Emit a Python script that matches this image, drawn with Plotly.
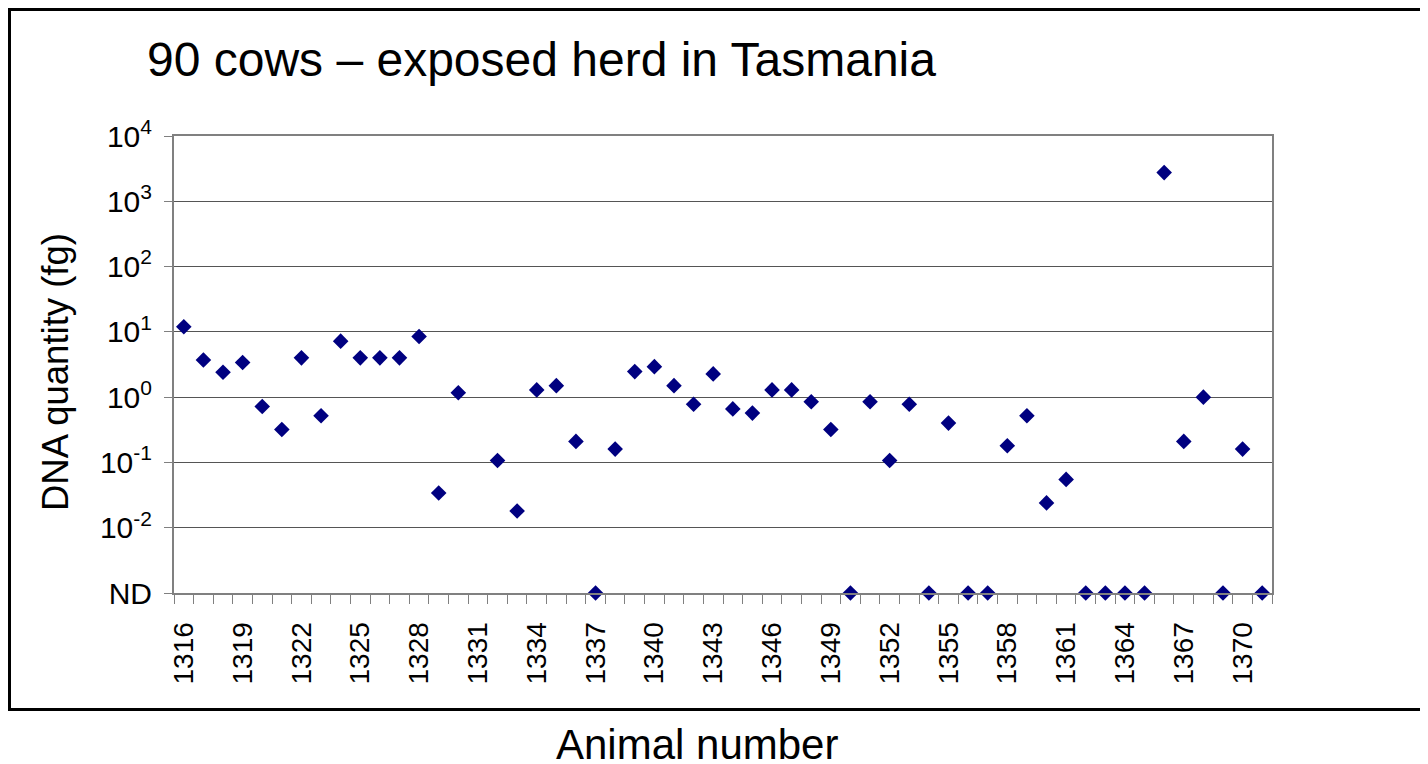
import plotly.graph_objects as go

# ---- data ----
animals = list(range(1316, 1372))
dna_fg = [
    12, 3.7, 2.4, 3.4, 0.72, 0.32, 4.0, 0.52, 7.2, 4.0,        # 1316-1325
    4.0, 4.0, 8.5, 0.034, 1.17, None, 0.107, 0.018, 1.29, 1.5,  # 1326-1335
    0.21, "ND", 0.16, 2.46, 2.93, 1.5, 0.78, 2.27, 0.66, 0.57,  # 1336-1345
    1.29, 1.29, 0.85, 0.32, "ND", 0.85, 0.107, 0.78, "ND", 0.40,  # 1346-1355
    "ND", "ND", 0.18, 0.52, 0.024, 0.055, "ND", "ND", "ND", "ND",  # 1356-1365
    2750, 0.21, 1.0, "ND", 0.16, "ND",                          # 1366-1371
]
ND_LEVEL = 1e-3
y_tickvals = [1e-3, 1e-2, 1e-1, 1e0, 1e1, 1e2, 1e3, 1e4]
y_ticktext = ["ND", "10<sup>-2</sup>", "10<sup>-1</sup>", "10<sup>0</sup>",
              "10<sup>1</sup>", "10<sup>2</sup>", "10<sup>3</sup>", "10<sup>4</sup>"]
x_tickvals = animals[::3]
x_ticktext = [str(a) for a in x_tickvals]

y_plot = [ND_LEVEL if v == "ND" else v for v in dna_fg]

FONT = "Liberation Sans, Arial, sans-serif"

# page body adds an 8px offset; layout size compensates for it
W, H = 1420, 756
PL, PT, PW, PH = 174, 136, 1098, 457   # plot area in page pixels
OFF = 8


def px(xp):
    return (xp - PL) / PW


def py(yp):
    return (PT + PH - yp) / PH


fig = go.Figure()
fig.add_trace(go.Scatter(
    x=animals, y=y_plot, mode="markers",
    marker=dict(symbol="diamond", size=12, color="#000080"),
    cliponaxis=False, showlegend=False,
))

fig.update_layout(
    width=W, height=H,
    margin=dict(l=PL - OFF, r=W - (PL - OFF) - PW, t=PT - OFF, b=H - (PT - OFF) - PH),
    paper_bgcolor="white", plot_bgcolor="white",
    font=dict(family=FONT, color="black"),
    xaxis=dict(
        range=[1315.5, 1371.5],
        tickmode="array", tickvals=x_tickvals, ticktext=x_ticktext,
        tickangle=-90, tickfont=dict(size=28, family=FONT),
        ticks="outside", ticklen=9, tickcolor="rgba(0,0,0,0)",
        ticklabelstandoff=7,
        minor=dict(tick0=1315.5, dtick=1, ticks="outside", ticklen=9,
                   tickcolor="#808080", tickwidth=1, showgrid=False),
        showline=True, linecolor="#808080", linewidth=2, mirror=True,
        showgrid=False, zeroline=False,
    ),
    yaxis=dict(
        type="log", range=[-3, 4],
        tickmode="array", tickvals=y_tickvals, ticktext=y_ticktext,
        tickfont=dict(size=30, family=FONT),
        ticks="outside", ticklen=8, tickcolor="#808080", tickwidth=1,
        ticklabelstandoff=6,
        showline=True, linecolor="#808080", linewidth=2, mirror=True,
        showgrid=True, gridcolor="#555555", gridwidth=1, zeroline=False,
    ),
    annotations=[
        dict(text="90 cows \u2013 exposed herd in Tasmania", xref="paper", yref="paper",
             x=px(145), y=py(59), xanchor="left", yanchor="middle",
             showarrow=False, font=dict(size=48, family=FONT)),
        dict(text="DNA quantity (fg)", xref="paper", yref="paper", textangle=-90,
             x=px(55), y=py(372), xanchor="center", yanchor="middle",
             showarrow=False, font=dict(size=36.5, family=FONT)),
        dict(text="Animal number", xref="paper", yref="paper",
             x=px(697), y=py(744), xanchor="center", yanchor="middle",
             showarrow=False, font=dict(size=42, family=FONT)),
    ],
    shapes=[
        dict(type="rect", xref="paper", yref="paper",
             x0=px(9.5), x1=px(1445),
             y0=py(709.5), y1=py(9.5),
             line=dict(color="black", width=3), fillcolor="rgba(0,0,0,0)", layer="below"),
        dict(type="line", xref="paper", yref="paper",
             x0=px(1427), x1=px(1427),
             y0=py(388), y1=py(338),
             line=dict(color="#999999", width=2)),
    ],
)

fig.write_html("out.html")
